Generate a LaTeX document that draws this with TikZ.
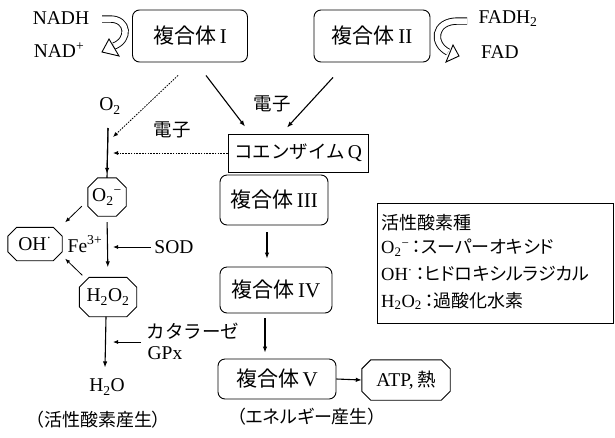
\documentclass[tikz,border=0pt]{standalone}
\usepackage{fontspec}
\setmainfont{Liberation Serif}
\newfontfamily\jp{Noto Sans CJK JP}
\newfontfamily\jpp[RawFeature=+palt]{Noto Sans CJK JP}
\usetikzlibrary{arrows.meta,calc}
\newcommand\octnode[7]{% name, x, y, w, h, chamfer, text
  \node[minimum width=#4pt, minimum height=#5pt, inner sep=0] (#1) at (#2,#3) {#7};
  \draw[line width=0.9pt] ([xshift=#6pt]#1.north west) -- ([xshift=-#6pt]#1.north east)
    -- ([yshift=-#6pt]#1.north east) -- ([yshift=#6pt]#1.south east)
    -- ([xshift=-#6pt]#1.south east) -- ([xshift=#6pt]#1.south west)
    -- ([yshift=#6pt]#1.south west) -- ([yshift=-#6pt]#1.north west) -- cycle;}
\newcommand\jpt[1]{{\jp\fontsize{18.5}{21}\selectfont #1}}
\newcommand\jpl[1]{{\jpp\fontsize{18}{21}\selectfont #1}}
\begin{document}
\begin{tikzpicture}[x=1pt,y=-1pt,
  font=\fontsize{19.5}{22}\selectfont,
  cbox/.style={draw, rounded corners=7pt, line width=0.9pt, inner sep=0, font=\fontsize{21}{24}\selectfont},
  arr/.style={-{Latex[length=6pt,width=4.5pt]}, line width=1.1pt},
  thinarr/.style={-{Latex[length=5pt,width=4pt]}, line width=0.8pt},
  darr/.style={-{Latex[length=5pt,width=4pt]}, line width=0.8pt, dash pattern=on 1.6pt off 1.2pt},
  hollow/.style={draw, line width=0.9pt, fill=white, line join=miter},
  legtxt/.style={anchor=west, inner sep=0, font=\fontsize{18.5}{21}\selectfont}]
\useasboundingbox (0,0) rectangle (615,437);

% complexes
\node[cbox, minimum width=115pt, minimum height=52pt] (c1) at (190,36) {{\jp 複合体}\,I};
\node[cbox, minimum width=116pt, minimum height=52pt] (c2) at (372,36) {{\jp 複合体}\,II};
\node[draw, line width=0.9pt, minimum width=140pt, minimum height=38pt, inner sep=0, font=\fontsize{19.5}{22}\selectfont] (q) at (298,153) {\jpt{コエンザイム}\,Q};
\node[cbox, minimum width=108pt, minimum height=50pt] (c3) at (274,200) {{\jp 複合体}\,III};
\node[cbox, minimum width=112pt, minimum height=46pt] (c4) at (276,290) {{\jp 複合体}\,IV};
\node[cbox, minimum width=118pt, minimum height=40pt] (c5) at (277,379) {{\jp 複合体}\,V};
\octnode{atp}{406}{380}{88}{40}{9}{ATP,\,\jpt{熱}}

% NADH / FADH2
\node (nadh) at (61,18) {NADH};
\node (nad) at (59,50) {NAD\textsuperscript{+}};
\node (fadh) at (508,19) {FADH\textsubscript{2}};
\node (fad) at (500,52) {FAD};
\coordinate (nA) at (102,19);
\coordinate (nB) at (114,46);
\draw[line width=0.9pt, double distance=5.5pt] (nA) -- (110,19) .. controls (129,19) and (130,40) .. (nB);
\draw[hollow] (102,52) -- (109,39) -- (119,56) -- cycle;
\coordinate (fA) at (467,21);
\coordinate (fB) at (448,52);
\draw[line width=0.9pt, double distance=5.5pt] (fA) -- (458,21) .. controls (433,21) and (432,44) .. (fB);
\draw[hollow] (459,56) -- (453,45) -- (446,62) -- cycle;

% electrons to Q
\node (e1) at (272,104) {\jpt{電子}};
\draw[arr] ($(c1.south)+(16,13)$) -- ($(q.north)+(-53,-7)$);
\draw[arr] ($(c2.south)+(-39,15)$) -- ($(q.north)+(-11,-6)$);

% down the chain
\draw[arr] ($(c3.south)+(-7,7)$) -- ($(c4.north)+(-9,-8)$);
\draw[arr] ($(c4.south)+(-11,5)$) -- ($(c5.north)+(-12,-6)$);
\draw[arr] (c5.east) -- (atp.west);

% reactive oxygen side
\node (o2lab) at (110,106) {O\textsubscript{2}};
\node (e2) at (172,130) {\jpt{電子}};
\coordinate (vtop) at (108,128);
\coordinate (j1) at (113,137);
\draw[darr] ($(c1.south)+(-12,13)$) -- (j1);
\draw[darr] (q.west) -- ($(q.west -| vtop)+(5,0)$);

\octnode{o2}{107}{197}{38}{38}{10}{O\textsubscript{2}\textsuperscript{−}}
\octnode{oh}{35}{244}{54}{33}{9}{OH\textsuperscript{·}}
\octnode{h2o2}{108}{297}{57}{39}{10}{H\textsubscript{2}O\textsubscript{2}}
\draw[line width=1.1pt] (vtop) -- (o2.north);
\draw[arr] (vtop) -- ($(o2.north)+(0,-4)$);

\node (fe) at (85,244) {Fe\textsuperscript{3+}};
\node (sod) at (174,247) {SOD};
\draw[arr, shorten <=6pt, shorten >=10pt] (o2.south) -- (h2o2.north);
\draw[thinarr] (sod.west) -- ($(sod.west -| o2.south)+(6,0)$);
\draw[thinarr] ($(o2.south west)+(-6,-10)$) -- ($(oh.north east)+(3,-5)$);
\draw[thinarr] ($(h2o2.north west)+(3,-2)$) -- ($(oh.south east)+(3,-2)$);

\node (h2o) at (107,387) {H\textsubscript{2}O};
\draw[arr] ($(h2o2.south)+(-2,0)$) -- ($(h2o.north)+(-2,-8)$);
\node (kat) at (193,331) {\jpt{カタラーゼ}};
\node (gpx) at (165,353) {GPx};
\coordinate (katS) at (141,342);
\draw[thinarr] (katS) -- ($(katS -| h2o2.south)+(5,0)$);

% captions
\node (cap1) at (98,420) {\jpl{（活性酸素産生）}};
\node (cap2) at (307,417) {\jpl{（エネルギー産生）}};

% legend
\node[draw, line width=0.9pt, minimum width=236pt, minimum height=120pt, inner sep=0] (leg) at (495,263) {};
\node[legtxt] (l1) at (381,223) {\jpl{活性酸素種}};
\node[legtxt] (l2) at (381,248) {O\textsubscript{2}\textsuperscript{−}\,\jpl{：スーパーオキシド}};
\node[legtxt] (l3) at (381,274) {OH\textsuperscript{·}\,\jpl{：ヒドロキシルラジカル}};
\node[legtxt] (l4) at (381,301) {H\textsubscript{2}O\textsubscript{2}\,\jpl{：過酸化水素}};
\end{tikzpicture}
\end{document}
